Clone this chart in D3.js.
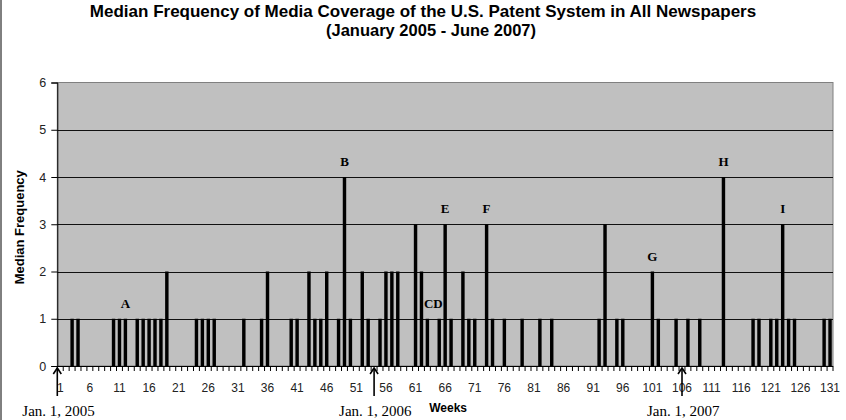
<!DOCTYPE html>
<html>
<head>
<meta charset="utf-8">
<script src="https://cdn.jsdelivr.net/npm/d3@7"></script>
<style>
  body { margin: 0; background: #fff; }
  svg { display: block; }
</style>
</head>
<body>
<div class="container"></div>
<script>
// weeks 1..131 and the median frequency for each week
const weeks = d3.range(1, 132)
const counts = [
  0, 0, 1, 1, 0, 0, 0, 0, 0, 1,
  1, 1, 0, 1, 1, 1, 1, 1, 2, 0,
  0, 0, 0, 1, 1, 1, 1, 0, 0, 0,
  0, 1, 0, 0, 1, 2, 0, 0, 0, 1,
  1, 0, 2, 1, 1, 2, 0, 1, 4, 1,
  0, 2, 1, 0, 1, 2, 2, 2, 0, 0,
  3, 2, 1, 0, 1, 3, 1, 0, 2, 1,
  1, 0, 3, 1, 0, 1, 0, 0, 1, 0,
  0, 1, 0, 1, 0, 0, 0, 0, 0, 0,
  0, 1, 3, 0, 1, 1, 0, 0, 0, 0,
  2, 1, 0, 0, 1, 0, 1, 0, 1, 0,
  0, 0, 4, 0, 0, 0, 0, 1, 1, 0,
  1, 1, 3, 1, 1, 0, 0, 0, 0, 1, 1
]
const tickWeeks = d3.range(1, 132, 5)
const yTicks = [0, 1, 2, 3, 4, 5, 6]

// event letters: [label, week, value it sits above]
const events = [
  ["A", 12, 1], ["B", 49, 4], ["CD", 64, 1], ["E", 66, 3],
  ["F", 73, 3], ["G", 101, 2], ["H", 113, 4], ["I", 123, 3]
]
// year markers: [label, week position]
const yearMarks = [["Jan. 1, 2005", 0.5], ["Jan. 1, 2006", 54], ["Jan. 1, 2007", 106]]

const w = 846
const h = 420
const pLeft = 57.3, pRight = 833, pTop = 82.5, pBottom = 366

const svg = d3.select(".container")
  .append("svg")
  .attr("width", w)
  .attr("height", h)

// frame line on the left edge
svg.append("line")
  .attr("x1", 1).attr("x2", 1)
  .attr("y1", 0).attr("y2", h)
  .attr("stroke", "#000")

const x = d3.scaleBand()
  .domain(weeks)
  .range([pLeft, pRight])
  .paddingInner(0.42)
  .paddingOuter(0.21)

const xLin = d3.scaleLinear().domain([0.5, 131.5]).range([pLeft, pRight])

const y = d3.scaleLinear().domain([0, 6]).range([pBottom, pTop])

// plot area
svg.append("rect")
  .attr("x", pLeft).attr("y", pTop)
  .attr("width", pRight - pLeft).attr("height", pBottom - pTop)
  .attr("fill", "#c0c0c0")
  .attr("stroke", "#808080")

// gridlines
svg.append("g")
  .selectAll("line")
  .data(yTicks.filter(d => d > 0 && d < 6))
  .enter()
  .append("line")
  .attr("x1", pLeft).attr("x2", pRight)
  .attr("y1", d => Math.round(y(d)) + 0.5)
  .attr("y2", d => Math.round(y(d)) + 0.5)
  .attr("stroke", "#111")

// bars
svg.append("g")
  .selectAll("rect")
  .data(weeks.map((wk, i) => ({ wk, v: counts[i] })).filter(d => d.v > 0))
  .enter()
  .append("rect")
  .attr("x", d => x(d.wk))
  .attr("width", x.bandwidth())
  .attr("y", d => y(d.v))
  .attr("height", d => y(0) - y(d.v))
  .attr("fill", "#000")

// y axis
const yAxis = svg.append("g")
  .attr("transform", `translate(${pLeft},0)`)
  .call(d3.axisLeft(y).tickValues(yTicks).tickSize(6).tickPadding(5).tickFormat(d3.format("d")))
yAxis.select(".domain").attr("stroke", "#000")
yAxis.selectAll("text")
  .attr("font-family", "Liberation Sans, Arial, sans-serif")
  .attr("font-size", "12.5px")
  .attr("fill", "#222")

// x axis line + week ticks between categories
svg.append("line")
  .attr("x1", pLeft).attr("x2", pRight)
  .attr("y1", pBottom + 0.5).attr("y2", pBottom + 0.5)
  .attr("stroke", "#000")

svg.append("g")
  .selectAll("line")
  .data(d3.range(0, weeks.length + 1))
  .enter()
  .append("line")
  .attr("x1", i => xLin(i + 0.5)).attr("x2", i => xLin(i + 0.5))
  .attr("y1", pBottom).attr("y2", pBottom + 5)
  .attr("stroke", "#000")

svg.append("g")
  .selectAll("text")
  .data(tickWeeks)
  .enter()
  .append("text")
  .attr("x", d => x(d) + x.bandwidth() / 2)
  .attr("y", 392)
  .attr("text-anchor", "middle")
  .attr("font-family", "Liberation Sans, Arial, sans-serif")
  .attr("font-size", "12px")
  .attr("fill", "#222")
  .text(d => d)

// event letters
svg.append("g")
  .selectAll("text")
  .data(events)
  .enter()
  .append("text")
  .attr("x", d => xLin(d[1]))
  .attr("y", d => y(d[2]) - 11)
  .attr("text-anchor", "middle")
  .attr("font-family", "Liberation Serif, Times New Roman, serif")
  .attr("font-weight", "bold")
  .attr("font-size", "13px")
  .text(d => d[0])

// year arrows and labels
const marks = svg.append("g")
  .selectAll("g")
  .data(yearMarks)
  .enter()
  .append("g")
  .attr("transform", d => `translate(${xLin(d[1])},0)`)

marks.append("line")
  .attr("x1", 0).attr("x2", 0)
  .attr("y1", 368).attr("y2", 396)
  .attr("stroke", "#000")
  .attr("stroke-width", 1.6)

marks.append("path")
  .attr("d", "M-4,374 L0,368 L4,374")
  .attr("fill", "none")
  .attr("stroke", "#000")
  .attr("stroke-width", 1.6)

marks.append("text")
  .attr("x", -35)
  .attr("y", 416)
  .attr("font-family", "Liberation Serif, Times New Roman, serif")
  .attr("font-size", "15px")
  .text(d => d[0])

// axis titles
svg.append("text")
  .attr("x", (pLeft + pRight) / 2 + 3)
  .attr("y", 412)
  .attr("text-anchor", "middle")
  .attr("font-family", "Liberation Sans, Arial, sans-serif")
  .attr("font-weight", "bold")
  .attr("font-size", "12px")
  .text("Weeks")

svg.append("text")
  .attr("transform", `translate(24,${(pTop + pBottom) / 2 + 3}) rotate(-90)`)
  .attr("text-anchor", "middle")
  .attr("font-family", "Liberation Sans, Arial, sans-serif")
  .attr("font-weight", "bold")
  .attr("font-size", "13px")
  .text("Median Frequency")

// title
svg.append("text")
  .attr("x", w / 2)
  .attr("y", 17)
  .attr("text-anchor", "middle")
  .attr("font-family", "Liberation Sans, Arial, sans-serif")
  .attr("font-weight", "bold")
  .attr("font-size", "17px")
  .text("Median Frequency of Media Coverage of the U.S. Patent System in All Newspapers")

svg.append("text")
  .attr("x", w / 2 + 8)
  .attr("y", 36)
  .attr("text-anchor", "middle")
  .attr("font-family", "Liberation Sans, Arial, sans-serif")
  .attr("font-weight", "bold")
  .attr("font-size", "16.5px")
  .text("(January 2005 - June 2007)")
</script>
</body>
</html>
